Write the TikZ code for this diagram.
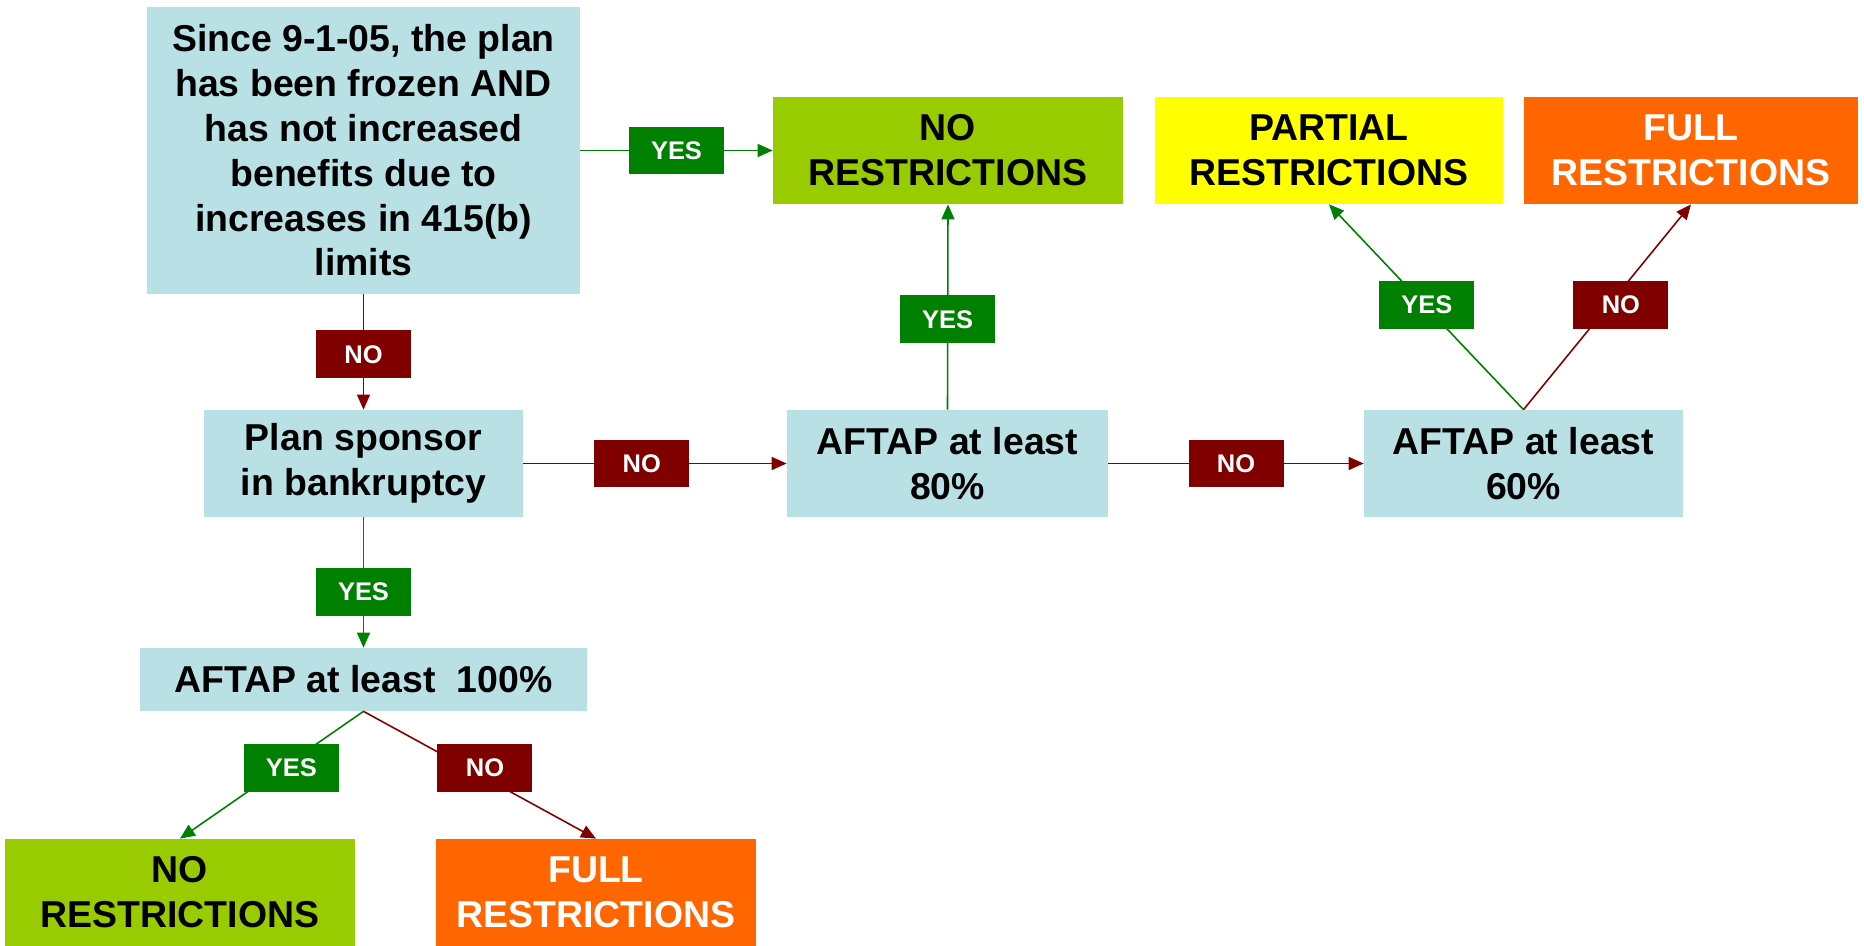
\documentclass[tikz,border=0pt]{standalone}
\usepackage{fontspec}
\setmainfont{Liberation Sans}
\usetikzlibrary{arrows.meta}
\definecolor{boxblue}{RGB}{185,224,228}
\definecolor{okgreen}{RGB}{153,204,0}
\definecolor{partyellow}{RGB}{255,255,0}
\definecolor{fullorange}{RGB}{255,102,0}
\definecolor{yesgreen}{RGB}{0,128,0}
\definecolor{nored}{RGB}{128,0,0}
\tikzset{
  bigtext/.style={font=\fontsize{21.3}{25.5}\selectfont\bfseries},
  question/.style={bigtext, fill=boxblue, minimum height=2.14cm, inner sep=0pt, align=center},
  result/.style={bigtext, minimum height=2.14cm, inner sep=0pt, align=center},
  lbl/.style={text=white, minimum width=1.9cm, minimum height=0.96cm, inner sep=0pt, font=\fontsize{14.5}{17}\selectfont\bfseries},
  yeslbl/.style={lbl, fill=yesgreen},
  nolbl/.style={lbl, fill=nored},
  yesline/.style={draw=yesgreen, line width=0.9pt, -{Triangle[length=0.3cm,width=0.26cm]}},
  noline/.style={draw=nored, line width=0.9pt, -{Triangle[length=0.3cm,width=0.26cm]}}
}
\begin{document}
\begin{tikzpicture}[x=0.02cm,y=-0.02cm]
    \useasboundingbox (0,0) rectangle (1864,946);

    \node[question, minimum width=8.66cm, minimum height=5.74cm] (frozen) at (363.5,150.5)
        {Since 9-1-05, the plan\\has been frozen AND\\has not increased\\benefits due to\\increases in 415(b)\\limits};
    \node[question, minimum width=6.38cm] (bankrupt) at (363.5,463.5) {Plan sponsor\\in bankruptcy};
    \node[question, minimum width=6.42cm] (aft80) at (947.5,463.5) {AFTAP at least\\80\%};
    \node[question, minimum width=6.38cm] (aft60) at (1523.5,463.5) {AFTAP at least\\60\%};
    \node[question, minimum width=8.94cm, minimum height=1.26cm] (aft100) at (363.5,679.5) {AFTAP at least~~100\%};

    \node[result, fill=okgreen, minimum width=7cm] (noneTop) at (948,150.5) {NO\\RESTRICTIONS};
    \node[result, fill=partyellow, minimum width=6.96cm] (partial) at (1329,150.5) {PARTIAL\\RESTRICTIONS};
    \node[result, fill=fullorange, text=white, minimum width=6.68cm] (fullTop) at (1691,150.5) {FULL\\RESTRICTIONS};
    \node[result, fill=okgreen, minimum width=7cm] (noneBot) at (180,892.5) {NO\\RESTRICTIONS};
    \node[result, fill=fullorange, text=white, minimum width=6.4cm] (fullBot) at (596,892.5) {FULL\\RESTRICTIONS};

    \draw[yesline] (frozen.east) -- node[yeslbl, pos=0.5] (yFrozen) {YES} (noneTop.west);
    \draw[noline] (frozen.south) -- node[nolbl, pos=0.52] (nFrozen) {NO} (bankrupt.north);
    \draw[noline] (bankrupt.east) -- node[nolbl, pos=0.45] (nBankrupt) {NO} (aft80.west);
    \draw[yesline] (bankrupt.south) -- node[yeslbl, pos=0.57] (yBankrupt) {YES} (aft100.north);
    \draw[yesline] (aft80.north) -- node[yeslbl, pos=0.44] (y80) {YES} (noneTop.south);
    \draw[noline] (aft80.east) -- node[nolbl, pos=0.5] (n80) {NO} (aft60.west);
    \draw[yesline] (aft60.north) -- node[yeslbl, pos=0.51, xshift=0.05cm] (y60) {YES} (partial.south);
    \draw[noline] (aft60.north) -- node[nolbl, pos=0.51, xshift=0.24cm] (n60) {NO} (fullTop.south);
    \draw[yesline] (aft100.south) -- node[yeslbl, pos=0.445, xshift=0.19cm] (y100) {YES} (noneBot.north);
    \draw[noline] (aft100.south) -- node[nolbl, pos=0.445, xshift=0.36cm] (n100) {NO} (fullBot.north);
\end{tikzpicture}
\end{document}
